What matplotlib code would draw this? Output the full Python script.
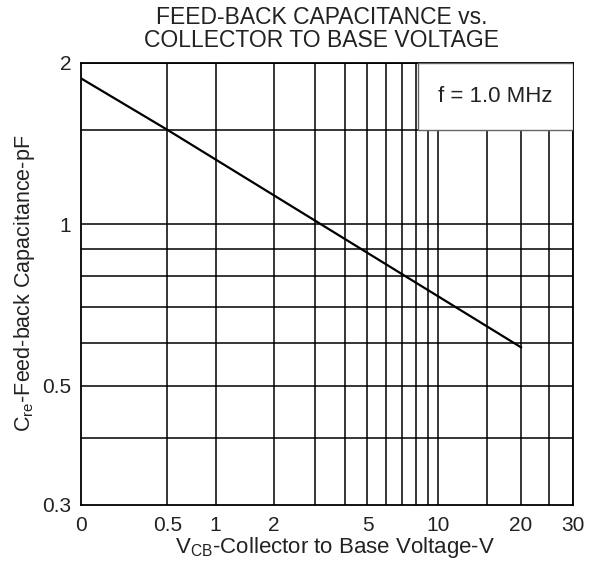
import numpy as np
import matplotlib
matplotlib.use("Agg")
import matplotlib.pyplot as plt
import matplotlib.transforms as mtransforms
from matplotlib.patches import Rectangle

plt.rcParams['font.family'] = ['Liberation Sans', 'DejaVu Sans']
plt.rcParams['mathtext.fontset'] = 'custom'
plt.rcParams['mathtext.rm'] = 'Liberation Sans'
plt.rcParams['mathtext.it'] = 'Liberation Sans'

# data
vcb = [0, 0.5, 20]
cre = [1.87, 1.5, 0.59]

x_grid = [0.5, 1, 2, 3, 4, 5, 6, 7, 8, 9, 10, 15, 20, 25, 30]
x_labeled = {0: "0", 0.5: "0.5", 1: "1", 2: "2", 5: "5", 10: "10", 20: "20", 30: "30"}
y_grid = [0.4, 0.5, 0.6, 0.7, 0.8, 0.9, 1, 1.5, 2]
y_labeled = {0.3: "0.3", 0.5: "0.5", 1: "1", 2: "2"}

# the printed x axis is not a clean log axis: piecewise log between these knots
knots = np.array([0.25, 0.5, 1, 2, 10, 20, 30])
knot_pos = np.array([0.0, 0.1755, 0.2736, 0.3922, 0.7267, 0.8949, 1.0])


def fwd(x):
    x = np.clip(np.asarray(x, dtype=float), 0.25, None)
    return np.interp(np.log10(x), np.log10(knots), knot_pos)


def inv(p):
    return 10 ** np.interp(p, knot_pos, np.log10(knots))


txt = "#222222"
fig = plt.figure(figsize=(5.95, 5.68), dpi=100)
ax = fig.add_axes([81 / 595, 63 / 568, 491.7 / 595, 442.3 / 568])
ax.set_xscale("function", functions=(fwd, inv))
ax.set_yscale("log")
ax.set_xlim(0.25, 30)
ax.set_ylim(0.3, 2)

for xv in x_grid:
    ax.axvline(xv, color="black", lw=1.1, zorder=1)
for yv in y_grid:
    ax.axhline(yv, color="black", lw=1.1, zorder=1)

ax.plot(vcb, cre, color="black", lw=1.6, zorder=3)

xt = sorted(x_labeled)
ax.set_xticks([0.25 if v == 0 else v for v in xt])
ax.set_xticklabels([x_labeled[v] for v in xt])
ax.xaxis.set_minor_locator(matplotlib.ticker.NullLocator())
yt = sorted(y_labeled)
ax.set_yticks(yt)
ax.set_yticklabels([y_labeled[v] for v in yt])
ax.yaxis.set_minor_locator(matplotlib.ticker.NullLocator())
ax.tick_params(length=0, labelsize=15, colors=txt)
ax.tick_params(axis="x", pad=8)
ax.tick_params(axis="y", pad=7)

for s in ax.spines.values():
    s.set_linewidth(1.3)
    s.set_color("black")

# frequency box in upper right corner
blend = mtransforms.blended_transform_factory(ax.transAxes, ax.transData)
ax.add_patch(Rectangle((0.686, 1.5), 0.314, 0.5, transform=blend,
                       facecolor="white", edgecolor="#666666", lw=1.0, zorder=4))
ax.text(0.843, 1.73, "f = 1.0 MHz", fontsize=16, color=txt,
        ha="center", va="center", zorder=5, transform=blend)

fig.text(322 / 595, 1 - 29 / 568, "FEED-BACK CAPACITANCE vs.\nCOLLECTOR TO BASE VOLTAGE",
         ha="center", va="center", fontsize=16.5, color=txt, linespacing=1.05)
fig.text(335 / 595, 1 - 548 / 568, r"V$_{\mathregular{CB}}$-Collector to Base Voltage-V",
         ha="center", va="center", fontsize=16, color=txt)
fig.text(25 / 595, 1 - 283 / 568, r"C$_{\mathregular{re}}$-Feed-back Capacitance-pF",
         ha="center", va="center", rotation=90, fontsize=15.5, color=txt)

fig.savefig("out.png", dpi=100, facecolor="white")
